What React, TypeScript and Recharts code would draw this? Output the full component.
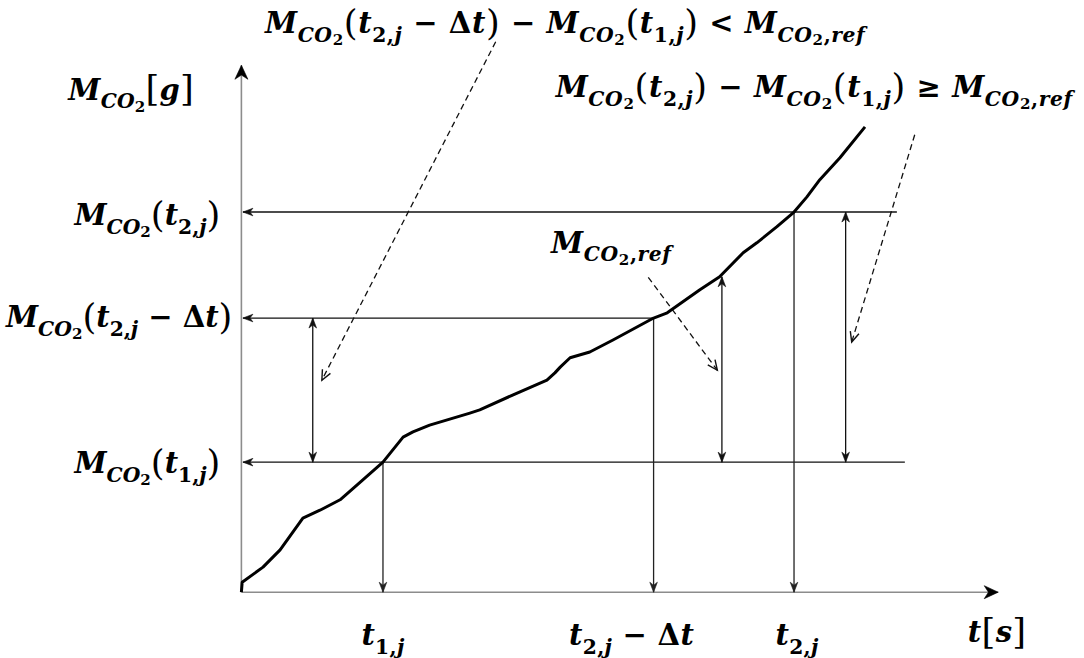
import React from 'react';
import { LineChart, Line, XAxis, YAxis, ReferenceLine, ReferenceDot } from 'recharts';

// ---------- data ----------
const curveT = [0, 0.1, 2.85, 5.1, 8.1, 10.35, 13.0, 16.0, 18.65, 21.3, 22.6, 24.8, 30.1, 31.4, 35.8, 40.25, 41.3, 42.0, 43.3, 45.9, 48.95, 54.3, 56.1, 60.4, 63.0, 66.1, 67.9, 70.55, 72.8, 74.5, 76.2, 78.85, 82.15];
const curveM = [0, 1.9, 4.8, 8.1, 14.2, 15.7, 17.7, 21.5, 24.9, 29.7, 30.7, 32.0, 34.3, 34.9, 37.8, 40.6, 42.0, 43.1, 44.9, 46.0, 48.3, 52.5, 53.5, 57.9, 60.4, 65.0, 66.9, 70.0, 72.8, 75.7, 79.0, 83.2, 89.1];

// t_{1,j}, t_{2,j} - Δt, t_{2,j}
const markT = [18.65, 54.3, 72.8];
const markM = [24.9, 52.5, 72.8];
const xTickLabels = ['t_{1,j}', 't_{2,j} − Δt', 't_{2,j}'];
const yTickLabels = ['M_{CO_{2}}(t_{1,j})', 'M_{CO_{2}}(t_{2,j} − Δt)', 'M_{CO_{2}}(t_{2,j})'];

// reference increment arrow (M_CO2,ref) and the two difference arrows
const refT = 63.3;
const refTopM = 60.4;
const diffLeftT = 9.4;
const diffRightT = 79.6;

// extents of the axes and guide lines (data units)
const yAxisTop = 100.9;
const xAxisRight = 99.7;
const hLineRightT = [87.4, 54.3, 86.35];
const hLineLeftT = 0.2;

// annotations
const noteTexts = [
  'M_{CO_{2}}(t_{2,j} − Δt) − M_{CO_{2}}(t_{1,j}) < M_{CO_{2},ref}',
  'M_{CO_{2}}(t_{2,j}) − M_{CO_{2}}(t_{1,j}) ≥ M_{CO_{2},ref}',
  'M_{CO_{2},ref}',
  'M_{CO_{2}}[g]',
  't[s]',
];
const noteT = [3.1, 41.4, 40.8, -22.8, 95.7];
const noteM = [107.1, 94.8, 65.0, 94.3, -9.5];

const dashFromT = [33.5, 88.7, 53.6];
const dashFromM = [105.4, 87.6, 60.3];
const dashToT = [10.6, 80.4, 62.7];
const dashToM = [40.6, 47.9, 42.5];

// ---------- layout ----------
const W = 1084;
const H = 658;
const FONT = '"DejaVu Serif", "Liberation Serif", serif';
const BASE = 29;
const xTickDx = [0, -22, 3];
const xTickM = -10.1;
const yTickDx = [-21, -9, -21];
const yTickDy = [11, 9, 13];
const noteSpacing = [0.6, 0.6, 0.6, 0.2, 0.3];

// ---------- math text ----------
type Tok = { s: string; lvl: number };
function parse(src: string, lvl = 0): Tok[] {
  const out: Tok[] = [];
  let i = 0;
  while (i < src.length) {
    const c = src[i];
    if (c === '_' && src[i + 1] === '{') {
      let depth = 0;
      let j = i + 1;
      for (; j < src.length; j++) {
        if (src[j] === '{') depth++;
        else if (src[j] === '}') {
          depth--;
          if (depth === 0) break;
        }
      }
      out.push(...parse(src.slice(i + 2, j), lvl + 1));
      i = j + 1;
    } else {
      out.push({ s: c, lvl });
      i++;
    }
  }
  return out;
}

const LVL_SCALE = [1, 0.7, 0.52];
const LVL_OFF = [0, 0.3, 0.42];

function MathText({ x, y, src, anchor = 'start', size = BASE, spacing = 0 }: { x: number; y: number; src: string; anchor?: string; size?: number; spacing?: number }) {
  const toks = parse(src);
  type G = { s: string; lvl: number; it: boolean; par: boolean };
  const groups: G[] = [];
  toks.forEach((t) => {
    const it = /[A-Za-z]/.test(t.s);
    const par = /[()\[\]]/.test(t.s) && t.lvl === 0;
    const last = groups[groups.length - 1];
    if (last && last.lvl === t.lvl && last.it === it && last.par === par && !par) {
      last.s += t.s;
    } else {
      groups.push({ s: t.s, lvl: t.lvl, it, par });
    }
  });
  let prev = 0;
  return (
    <text x={x} y={y} textAnchor={anchor as any} fontFamily={FONT} fill="#000" letterSpacing={spacing} style={{ whiteSpace: 'pre' }}>
      {groups.map((g, i) => {
        const sz = size * LVL_SCALE[Math.min(g.lvl, 2)] * (g.par ? 1.22 : 1);
        const off = size * LVL_OFF[Math.min(g.lvl, 2)] + (g.par ? size * 0.06 : 0);
        const dy = off - prev;
        prev = off;
        return (
          <tspan key={i} dy={dy} fontSize={sz} fontStyle={g.it ? 'italic' : 'normal'} fontWeight={g.par ? 400 : 700}>
            {g.s}
          </tspan>
        );
      })}
    </text>
  );
}

// ---------- arrows ----------
type Head = 'stealth' | 'open' | 'none';
type ArrowOpts = { start?: Head; end?: Head; color?: string; headColor?: string; width?: number; dash?: string; len?: number; half?: number };

function headPath(tx: number, ty: number, fx: number, fy: number, kind: Head, len: number, half: number, color: string, key: string) {
  const dx = tx - fx;
  const dy = ty - fy;
  const d = Math.hypot(dx, dy) || 1;
  const ux = dx / d;
  const uy = dy / d;
  const nx = -uy;
  const ny = ux;
  const bx = tx - ux * len;
  const by = ty - uy * len;
  const lx = bx + nx * half;
  const ly = by + ny * half;
  const rx = bx - nx * half;
  const ry = by - ny * half;
  if (kind === 'stealth') {
    const cx = tx - ux * len * 0.7;
    const cy = ty - uy * len * 0.7;
    return <path key={key} d={`M${tx},${ty}L${lx},${ly}L${cx},${cy}L${rx},${ry}Z`} fill={color} stroke={color} strokeWidth={0.6} strokeLinejoin="miter" />;
  }
  if (kind === 'open') {
    return <path key={key} d={`M${lx},${ly}L${tx},${ty}L${rx},${ry}`} fill="none" stroke={color} strokeWidth={1.4} />;
  }
  return null;
}

const arrowShape = (o: ArrowOpts) => (p: any) => {
  const { x1, y1, x2, y2 } = p;
  const color = o.color ?? '#111';
  const hc = o.headColor ?? color;
  const len = o.len ?? 9;
  const half = o.half ?? 3.6;
  return (
    <g>
      <line x1={x1} y1={y1} x2={x2} y2={y2} stroke={color} strokeWidth={o.width ?? 1.3} strokeDasharray={o.dash} />
      {o.start && o.start !== 'none' ? headPath(x1, y1, x2, y2, o.start, len, half, hc, 's') : null}
      {o.end && o.end !== 'none' ? headPath(x2, y2, x1, y1, o.end, len, half, hc, 'e') : null}
    </g>
  );
};

const axisShape = arrowShape({ end: 'stealth', color: '#8c8c8c', headColor: '#000', width: 1.6, len: 14, half: 6.5 });
const guideLeft = arrowShape({ end: 'stealth', color: '#111', width: 1.3, len: 10, half: 3.8 });
const guideDown = arrowShape({ end: 'stealth', color: '#222', width: 1.3, len: 10, half: 3.8 });
const doubleArrow = arrowShape({ start: 'stealth', end: 'stealth', color: '#111', width: 1.3, len: 10, half: 3.8 });
const dashArrow = arrowShape({ end: 'open', color: '#111', width: 1.3, dash: '6 4', len: 10, half: 4.5 });

const curveData = curveT.map((t, i) => ({ t, M: curveM[i] }));

export default function App() {
  return (
    <div style={{ position: 'absolute', left: 0, top: 0, width: W, height: H, background: '#fff' }}>
      <LineChart width={W} height={H} margin={{ top: 0, right: 0, bottom: 0, left: 0 }}>
        <XAxis type="number" dataKey="t" domain={[-31.8, 111]} hide allowDataOverflow />
        <YAxis type="number" dataKey="M" domain={[-12.6, 113.4]} hide allowDataOverflow />

        {/* axes */}
        <ReferenceLine segment={[{ x: 0, y: 0 }, { x: 0, y: yAxisTop }]} ifOverflow="visible" shape={axisShape} />
        <ReferenceLine segment={[{ x: 0, y: 0 }, { x: xAxisRight, y: 0 }]} ifOverflow="visible" shape={axisShape} />

        {/* horizontal guides */}
        {markM.map((m, i) => (
          <ReferenceLine key={`h${i}`} segment={[{ x: hLineRightT[i], y: m }, { x: hLineLeftT, y: m }]} ifOverflow="visible" shape={guideLeft} />
        ))}
        {/* vertical guides */}
        {markT.map((t, i) => (
          <ReferenceLine key={`v${i}`} segment={[{ x: t, y: markM[i] }, { x: t, y: 0 }]} ifOverflow="visible" shape={guideDown} />
        ))}
        {/* difference arrows */}
        <ReferenceLine segment={[{ x: diffLeftT, y: markM[1] }, { x: diffLeftT, y: markM[0] }]} ifOverflow="visible" shape={doubleArrow} />
        <ReferenceLine segment={[{ x: refT, y: refTopM }, { x: refT, y: markM[0] }]} ifOverflow="visible" shape={doubleArrow} />
        <ReferenceLine segment={[{ x: diffRightT, y: markM[2] }, { x: diffRightT, y: markM[0] }]} ifOverflow="visible" shape={doubleArrow} />
        {/* dashed pointers */}
        {dashFromT.map((t, i) => (
          <ReferenceLine key={`d${i}`} segment={[{ x: t, y: dashFromM[i] }, { x: dashToT[i], y: dashToM[i] }]} ifOverflow="visible" shape={dashArrow} />
        ))}

        <Line
          data={curveData}
          dataKey="M"
          type="linear"
          stroke="#000"
          strokeWidth={3}
          strokeLinejoin="round"
          dot={false}
          activeDot={false}
          isAnimationActive={false}
        />

        {/* x tick labels */}
        {markT.map((t, i) => (
          <ReferenceDot
            key={`xt${i}`}
            x={t}
            y={xTickM}
            r={0}
            ifOverflow="visible"
            shape={(p: any) => <MathText x={p.cx + xTickDx[i]} y={p.cy} src={xTickLabels[i]} anchor="middle" spacing={0.3} />}
          />
        ))}
        {/* y tick labels */}
        {markM.map((m, i) => (
          <ReferenceDot
            key={`yt${i}`}
            x={0}
            y={m}
            r={0}
            ifOverflow="visible"
            shape={(p: any) => <MathText x={p.cx + yTickDx[i]} y={p.cy + yTickDy[i]} src={yTickLabels[i]} anchor="end" spacing={0} />}
          />
        ))}
        {/* notes */}
        {noteTexts.map((s, i) => (
          <ReferenceDot
            key={`n${i}`}
            x={noteT[i]}
            y={noteM[i]}
            r={0}
            ifOverflow="visible"
            shape={(p: any) => <MathText x={p.cx} y={p.cy} src={s} spacing={noteSpacing[i]} />}
          />
        ))}
      </LineChart>
    </div>
  );
}
